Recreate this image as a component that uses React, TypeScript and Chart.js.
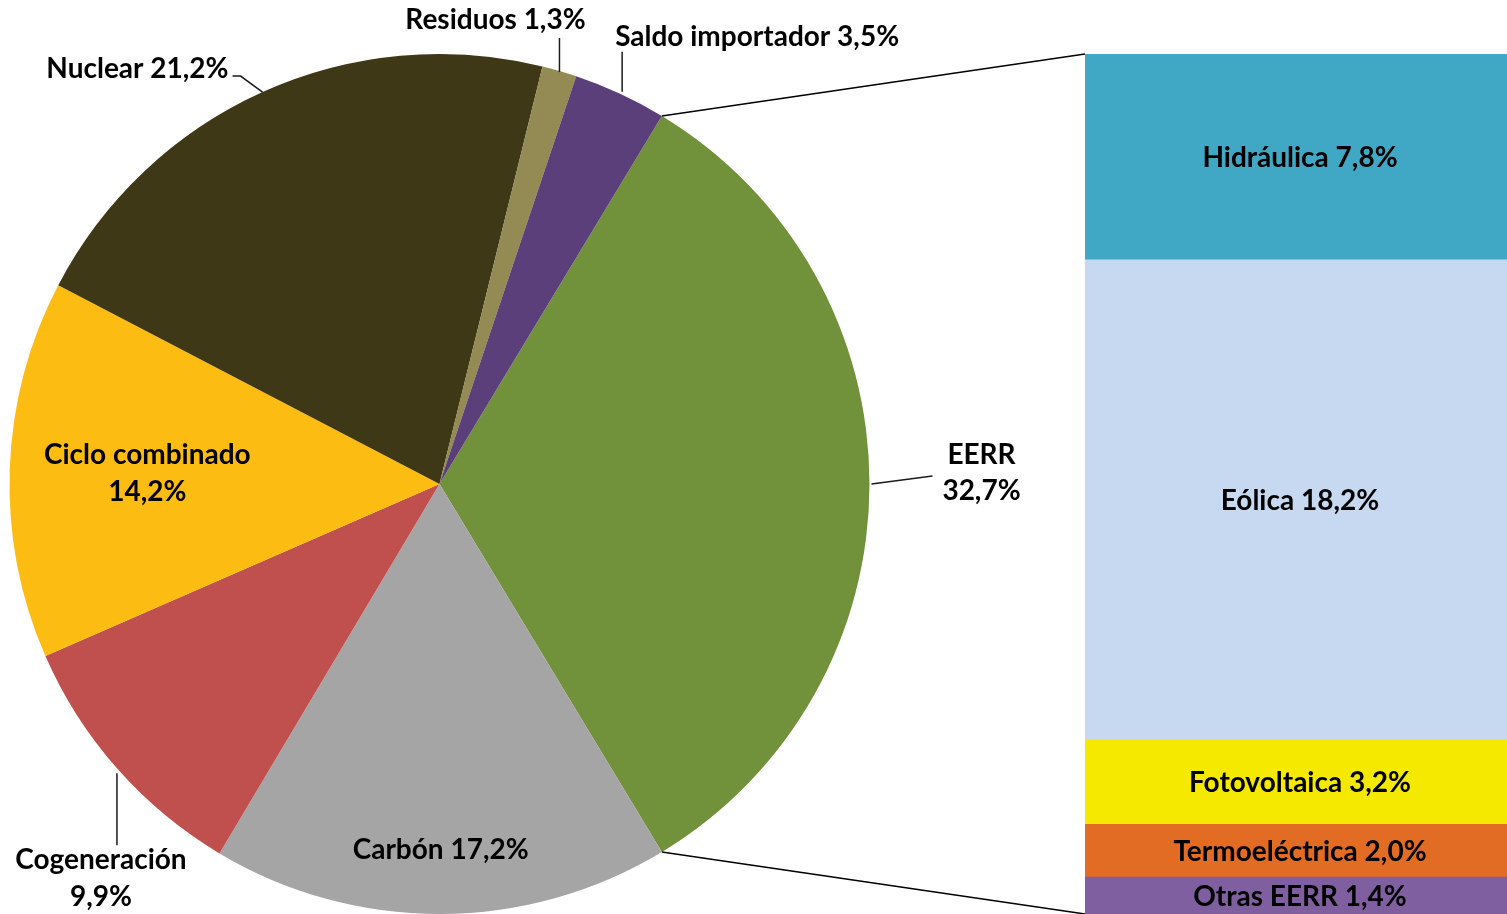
import React, { useEffect, useRef } from "react";
import { Chart, registerables } from "chart.js";

Chart.register(...registerables);

// ---- Data ----
const pieLabels = ["EERR", "Carbón", "Cogeneración", "Ciclo combinado", "Nuclear", "Residuos", "Saldo importador"];
const pieValues = [32.7, 17.2, 9.9, 14.2, 21.2, 1.3, 3.5];
const pieColors = ["#71913B", "#A5A5A5", "#C0504D", "#FDBC12", "#3F3817", "#948A54", "#5A3F7A"];

const barLabels = ["Hidráulica", "Eólica", "Fotovoltaica", "Termoeléctrica", "Otras EERR"];
const barValues = [7.8, 18.2, 3.2, 2.0, 1.4];
const barColors = ["#40A8C4", "#C6D9F0", "#F5E900", "#E36C24", "#7F5FA0"];

// ---- Layout / style ----
const W = 1507;
const H = 914;
const BAR_LEFT = 1085;
const BAR_TOP = 54;
const BAR_W = 422;
const BAR_H = 860;
const FONT = "bold 28px Lato, 'Open Sans', sans-serif";

const pieLabelStyle = [
  { split: true, anchorR: 1, leader: [[2, 0], [63, -8]], tx: 112, ty: -11.5, align: "center", gap: 36 },
  { split: false, anchorR: 0.85, leader: null, tx: 0, ty: 0, align: "center", gap: 0 },
  { split: true, anchorR: 1, leader: [[0, 5], [0, 77]], tx: -16, ty: 110, align: "center", gap: 37 },
  { split: true, anchorR: 0.68, leader: null, tx: 0, ty: 0, align: "center", gap: 37 },
  { split: false, anchorR: 1, leader: [[0, 0], [-22, -16], [-30, -16]], tx: -34, ty: -23, align: "right", gap: 0 },
  { split: false, anchorR: 1, leader: [[0, 1], [0, -33]], tx: -64, ty: -51, align: "center", gap: 0 },
  { split: false, anchorR: 1, leader: [[2, -2], [2, -42]], tx: -5, ty: -57, align: "left", gap: 0 },
];

const fmt = (v: number) => v.toFixed(1).replace(".", ",") + "%";

export default function App() {
  const pieRef = useRef<HTMLCanvasElement>(null);
  const barRef = useRef<HTMLCanvasElement>(null);

  useEffect(() => {
    document.body.style.margin = "0";
    const totalBar = barValues.reduce((a, b) => a + b, 0);
    const rotation = 90 - (pieValues[0] / 100) * 360 / 2;

    const pieLabelPlugin = {
      id: "pieLabels",
      afterDraw(chart: any) {
        const ctx = chart.ctx;
        const meta = chart.getDatasetMeta(0);
        ctx.save();
        // connector lines from EERR slice to bar
        const eerr = meta.data[0] as any;
        const p1 = { x: eerr.x + eerr.outerRadius * Math.cos(eerr.startAngle), y: eerr.y + eerr.outerRadius * Math.sin(eerr.startAngle) };
        const p2 = { x: eerr.x + eerr.outerRadius * Math.cos(eerr.endAngle), y: eerr.y + eerr.outerRadius * Math.sin(eerr.endAngle) };
        ctx.strokeStyle = "#000";
        ctx.lineWidth = 1.5;
        ctx.beginPath();
        ctx.moveTo(p1.x, p1.y);
        ctx.lineTo(BAR_LEFT, BAR_TOP);
        ctx.moveTo(p2.x, p2.y);
        ctx.lineTo(BAR_LEFT, BAR_TOP + BAR_H);
        ctx.stroke();

        ctx.font = FONT;
        ctx.fillStyle = "#000";
        ctx.textBaseline = "middle";
        meta.data.forEach((el: any, i: number) => {
          const st = pieLabelStyle[i];
          const mid = (el.startAngle + el.endAngle) / 2;
          const ax = el.x + el.outerRadius * st.anchorR * Math.cos(mid);
          const ay = el.y + el.outerRadius * st.anchorR * Math.sin(mid);
          if (st.leader) {
            ctx.strokeStyle = "#1a1a1a";
            ctx.lineWidth = 1.5;
            ctx.beginPath();
            st.leader.forEach((p: number[], k: number) => {
              if (k === 0) ctx.moveTo(ax + p[0], ay + p[1]);
              else ctx.lineTo(ax + p[0], ay + p[1]);
            });
            ctx.stroke();
          }
          ctx.textAlign = st.align;
          const name = pieLabels[i];
          const val = fmt(pieValues[i]);
          if (st.split) {
            ctx.fillText(name, ax + st.tx, ay + st.ty - st.gap / 2);
            ctx.fillText(val, ax + st.tx, ay + st.ty + st.gap / 2);
          } else {
            ctx.fillText(name + " " + val, ax + st.tx, ay + st.ty);
          }
        });
        ctx.restore();
      },
    };

    const pie = new Chart(pieRef.current!, {
      type: "pie",
      data: {
        labels: pieLabels,
        datasets: [{ data: pieValues, backgroundColor: pieColors, borderWidth: 0 }],
      },
      options: {
        responsive: false,
        animation: false,
        rotation,
        layout: { padding: { left: 9, right: W - 9 - 861, top: 54, bottom: 0 } },
        plugins: { legend: { display: false }, tooltip: { enabled: false } },
      },
      plugins: [pieLabelPlugin],
    } as any);

    const order = barValues.map((_, i) => i).reverse(); // bottom to top
    const barLabelPlugin = {
      id: "barLabels",
      afterDatasetsDraw(chart: any) {
        const ctx = chart.ctx;
        ctx.save();
        ctx.font = FONT;
        ctx.fillStyle = "#000";
        ctx.textAlign = "center";
        ctx.textBaseline = "middle";
        chart.data.datasets.forEach((ds: any, di: number) => {
          const el = chart.getDatasetMeta(di).data[0] as any;
          const idx = order[di];
          ctx.fillText(barLabels[idx] + " " + fmt(barValues[idx]), el.x + 4, (el.y + el.base) / 2 + 1);
        });
        ctx.restore();
      },
    };

    const bar = new Chart(barRef.current!, {
      type: "bar",
      data: {
        labels: [""],
        datasets: order.map((i) => ({
          label: barLabels[i],
          data: [barValues[i]],
          backgroundColor: barColors[i],
          borderWidth: 0,
          barPercentage: 1,
          categoryPercentage: 1,
        })),
      },
      options: {
        responsive: false,
        animation: false,
        layout: { padding: 0 },
        scales: {
          x: { stacked: true, display: false },
          y: { stacked: true, display: false, min: 0, max: totalBar },
        },
        plugins: { legend: { display: false }, tooltip: { enabled: false } },
      },
      plugins: [barLabelPlugin],
    } as any);

    return () => {
      pie.destroy();
      bar.destroy();
    };
  }, []);

  return (
    <div style={{ position: "absolute", left: 0, top: 0, width: W, height: H, background: "#fff" }}>
      <canvas ref={pieRef} width={W} height={H} style={{ position: "absolute", left: 0, top: 0, width: W, height: H }} />
      <canvas
        ref={barRef}
        width={BAR_W}
        height={BAR_H}
        style={{ position: "absolute", left: BAR_LEFT, top: BAR_TOP, width: BAR_W, height: BAR_H }}
      />
    </div>
  );
}
